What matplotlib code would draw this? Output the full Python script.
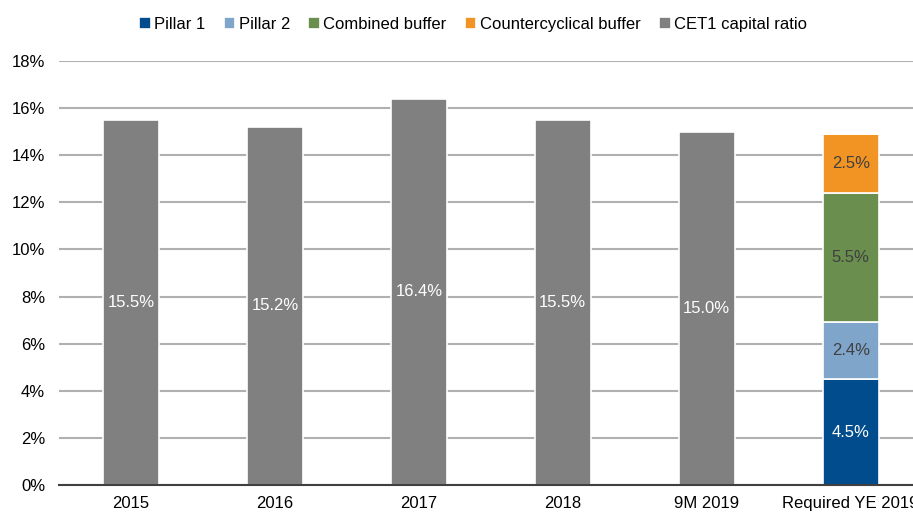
import matplotlib
matplotlib.use("Agg")
import matplotlib.pyplot as plt
from matplotlib.ticker import FuncFormatter

plt.rcParams["font.family"] = ["Liberation Sans", "DejaVu Sans"]

categories = ["2015", "2016", "2017", "2018", "9M 2019", "Required YE 2019"]
cet1 = [15.5, 15.2, 16.4, 15.5, 15.0, 0]
pillar1 = [0, 0, 0, 0, 0, 4.5]
pillar2 = [0, 0, 0, 0, 0, 2.4]
combined = [0, 0, 0, 0, 0, 5.5]
counter = [0, 0, 0, 0, 0, 2.5]

BLUE = "#004C8C"
LIGHTBLUE = "#7FA6CA"
GREEN = "#6A8E4E"
ORANGE = "#F29423"
GREY = "#808080"

fig = plt.figure(figsize=(9.13, 5.14), dpi=100)
ax = fig.add_axes([0.0646, 0.0564, 0.946, 0.825])

x = range(len(categories))
w = 0.39
bottom = [0] * len(categories)
series = [("Pillar 1", pillar1, BLUE, "white"),
          ("Pillar 2", pillar2, LIGHTBLUE, "#404040"),
          ("Combined buffer", combined, GREEN, "#404040"),
          ("Countercyclical buffer", counter, ORANGE, "#404040"),
          ("CET1 capital ratio", cet1, GREY, "white")]

handles = []
for name, vals, col, tcol in series:
	bars = ax.bar(x, vals, w, bottom=bottom, color=col, edgecolor="white", linewidth=1.2, label=name, zorder=3)
	handles.append(bars)
	for i, v in enumerate(vals):
		if v > 0:
			ax.text(i, bottom[i] + v / 2, f"{v:.1f}%", ha="center", va="center",
				color=tcol, fontsize=12, zorder=4)
	bottom = [b + v for b, v in zip(bottom, vals)]

ax.set_xlim(-0.5, 5.5)
ax.set_ylim(0, 18)
ax.set_yticks(range(0, 19, 2))
ax.yaxis.set_major_formatter(FuncFormatter(lambda v, p: f"{v:.0f}%"))
ax.set_xticks(list(x))
ax.set_xticklabels(categories)
ax.grid(axis="y", color="#B0B0B0", linewidth=1.5, zorder=0)
for s in ["top", "right", "left"]:
	ax.spines[s].set_visible(False)
ax.spines["bottom"].set_color("#404040")
ax.spines["bottom"].set_linewidth(1.5)
ax.spines["bottom"].set_zorder(5)
ax.tick_params(axis="both", length=0, labelsize=12, colors="black")
ax.tick_params(axis="x", pad=8)
ax.tick_params(axis="y", pad=10)

fig.legend(handles=handles, loc="center", bbox_to_anchor=(0.518, 0.953), ncol=5,
	frameon=False, fontsize=12, handlelength=0.7, handleheight=0.7, handletextpad=0.2,
	columnspacing=1.1)

fig.savefig("out.png", dpi=100)
